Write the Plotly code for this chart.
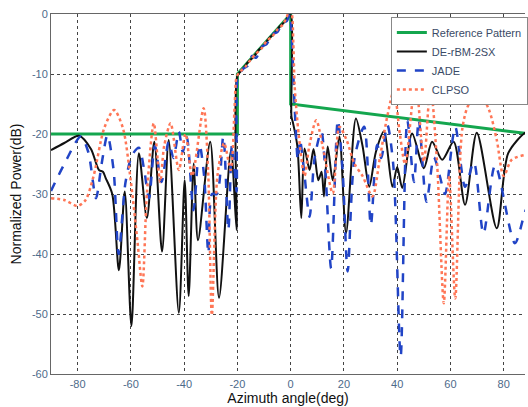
import plotly.graph_objects as go

# Reference pattern (mask)
ref_x = [-90, -20, -20, 0, 0, 90]
ref_y = [-20, -20, -10, 0, -15, -20]

# DE-rBM-2SX
de_x = [-90, -85, -79.5, -75, -72, -70.5, -69.5, -67, -64.5, -62.3, -59.8, -57, -54, -51.2, -48.3,
        -45.8, -42, -39.8, -38.3, -36.4, -34.8, -30.2, -26.9, -22.4, -20.3,
        -20.0, -18, -16, -14, -12, -10, -8, -6, -4, -2, -0.5, 0.15,
        0.3, 0.8, 2.5, 4, 5.2, 7.1, 8.6, 10.4, 11.6, 12.5, 13.9, 15.8, 18.3, 20.8, 24.5, 27, 29.5,
        32, 35, 38.2, 40, 41.9, 45.6, 50, 53.1, 56.9, 61.2, 65.5, 69.9, 77.4, 81.7, 88, 90]
de_y = [-22.7, -21.5, -20.3, -22.5, -26, -26.3, -27.3, -30, -42.7, -29.6, -52, -23.2, -34, -21.3, -39.6,
        -21, -49.8, -27.7, -47, -24.9, -37.7, -21.3, -47.3, -22.7, -36,
        -10.3, -9.2, -8.0, -7.2, -6.0, -5.2, -4.0, -3.2, -2.0, -1.2, -0.2, -0.3,
        -17.1, -18, -22, -34, -22.4, -26, -22.5, -27.7, -26.3, -30.4, -22.1, -27.7, -20.4, -36.5, -17.4, -22, -28.8,
        -23, -19.6, -28.8, -25.5, -29, -19.9, -25.7, -21.3, -24.3, -21.3, -31.8, -19.8, -35.7, -23.2, -19.8, -19.5]

# JADE
jade_x = [-90, -85, -78.8, -76, -73.1, -71, -68.8, -66.5, -64.6, -62, -59.5, -57, -55, -53.2, -51, -48.5,
          -45.8, -44, -42, -40.5, -39, -36.5, -34.2, -32.5, -30.9, -29.5, -27.7, -25.3, -23.4, -22, -20.3,
          -20.0, -19, -17.5, -16, -14.5, -13, -11, -9, -7, -5, -3, -1.5, -0.3,
          0.5, 1.5, 2.7, 3.5, 5, 7.1, 9, 11.5, 13, 15.2, 17.7, 19.5, 21.4, 24, 27.6, 30.1, 32.5, 34, 36.3,
          38.5, 41.3, 43.8, 46.3, 48.1, 51, 53.8, 56, 58, 61.8, 65.5, 68.8, 72.4, 76.8, 84.2, 88, 90]
jade_y = [-29.5, -25, -20.4, -23, -30.7, -25, -20.2, -26, -40, -28, -23.5, -22.3, -26, -30.7, -22, -28,
          -21.3, -24, -19.6, -23, -20.5, -32.7, -21.8, -27, -39.9, -30, -30, -20.4, -36, -21.7, -29.6,
          -10.8, -9.8, -9.0, -8.6, -7.0, -7.3, -5.5, -5.0, -3.4, -3.0, -1.5, -1.2, 0,
          -5, -15.5, -24.3, -21, -26, -33.8, -24, -19.6, -26, -42.4, -17.7, -26, -42.9, -24, -18.8, -35.2, -21.8, -24, -18.5,
          -25, -57.1, -17.7, -28, -17.7, -31.3, -23.9, -27, -30, -18.8, -28.8, -24.7, -36.6, -25.2, -38.2, -33, -31]

# CLPSO
cl_x = [-90, -85, -80, -77, -74, -70, -66.3, -63, -60, -57.5, -55.7, -54, -51.4, -49, -47.5, -45.1,
        -42, -39.5, -37, -32.7, -31, -29.6, -27.5, -25, -22.5, -21,
        -20.3, -19, -17, -15, -13, -11, -9, -7, -5, -3, -1.5, -0.5, 0.3,
        1, 1.5, 3, 5.2, 7, 9.6, 12, 15.8, 18.3, 21, 24, 27, 30.7, 33.5, 36.3, 38.8, 41, 43, 46.9,
        50, 52.5, 55, 57.5, 59.5, 61.8, 64.5, 67, 71.2, 74.5, 77.4, 80, 83, 88, 90]
cl_y = [-30.7, -31, -32, -31, -27, -19, -16, -19, -28, -38, -45.4, -30, -18.2, -28, -22, -18.2,
        -26, -20, -27, -15.7, -26, -50.2, -27, -21.5, -26, -15,
        -10.5, -9.6, -8.8, -7.6, -6.6, -5.8, -4.5, -3.8, -2.6, -1.8, -0.5, 0.5, 0.2,
        -5, -12, -20, -27, -22, -17.7, -22, -29.9, -18.8, -21, -25, -27, -30.4, -24, -17, -12.7, -20, -25, -11,
        -24.6, -12.1, -25, -48.2, -27, -47.4, -19, -15, -13.5, -16, -21, -27, -24.3, -23.5, -23.5]

# Axis ticks
x_ticks = [-80, -60, -40, -20, 0, 20, 40, 60, 80]
y_ticks = [0, -10, -20, -30, -40, -50, -60]

fig = go.Figure()
fig.add_trace(go.Scatter(x=ref_x, y=ref_y, mode="lines", name="Reference Pattern",
                         line=dict(color="#14a64e", width=3)))
fig.add_trace(go.Scatter(x=de_x, y=de_y, mode="lines", name="DE-rBM-2SX",
                         line=dict(color="#111111", width=2, shape="spline", smoothing=0.8)))
fig.add_trace(go.Scatter(x=jade_x, y=jade_y, mode="lines", name="JADE",
                         line=dict(color="#2144c6", width=2.5, dash="dash", shape="spline", smoothing=0.8)))
fig.add_trace(go.Scatter(x=cl_x, y=cl_y, mode="lines", name="CLPSO",
                         line=dict(color="#ff7656", width=2.5, dash="dot", shape="spline", smoothing=0.8)))

tick_color = "#4d6a8a"
fig.update_layout(
    width=528, height=407,
    margin=dict(l=51, r=0, t=14, b=33),
    paper_bgcolor="white", plot_bgcolor="white",
    font=dict(family="Liberation Sans, Arial, sans-serif", size=11, color="#222"),
    showlegend=True,
    legend=dict(x=0.717, y=0.992, xanchor="left", yanchor="top",
                bgcolor="white", bordercolor="#888", borderwidth=1,
                font=dict(size=11, color="#3a4a66"), itemwidth=30,
                tracegroupgap=0),
)
fig.update_xaxes(range=[-90, 88], tickvals=x_ticks, ticktext=[str(v) for v in x_ticks],
                 showgrid=True, gridcolor="#444", griddash="dot", gridwidth=1,
                 showline=True, linecolor="#666", linewidth=1, mirror=True,
                 zeroline=False, ticks="", tickfont=dict(size=11, color=tick_color),
                 title=dict(text="Azimuth angle(deg)", font=dict(size=14, color="#111"), standoff=2))
fig.update_yaxes(range=[-60, 0], tickvals=y_ticks, ticktext=[str(v) for v in y_ticks],
                 showgrid=True, gridcolor="#444", griddash="dot", gridwidth=1,
                 showline=True, linecolor="#666", linewidth=1, mirror=False,
                 zeroline=False, ticks="", tickfont=dict(size=11, color=tick_color),
                 title=dict(text="Normalized Power(dB)", font=dict(size=14, color="#111"), standoff=6))

fig.write_html("out.html")
